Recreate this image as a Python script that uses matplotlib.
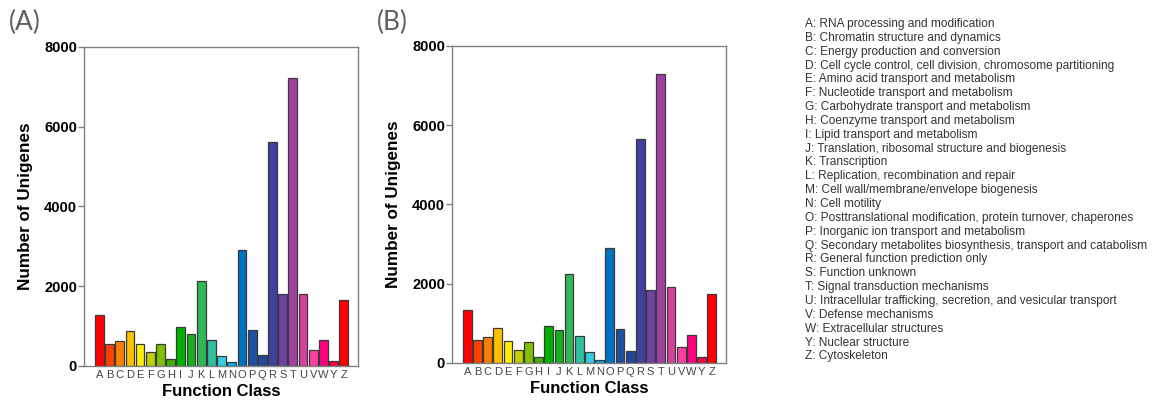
import matplotlib
matplotlib.use("Agg")
import matplotlib.pyplot as plt

# COG categories (no X)
classes = list("ABCDEFGHIJKLMNOPQRSTUVWYZ")

# Number of unigenes per class, panel (A) and (B)
counts_a = [1290, 560, 620, 890, 560, 340, 550, 180, 970, 810, 2140, 650, 260,
            100, 2900, 900, 280, 5610, 1800, 7220, 1800, 400, 660, 130, 1650]
counts_b = [1330, 580, 660, 890, 560, 330, 540, 160, 930, 830, 2240, 680, 270,
            80, 2910, 870, 290, 5660, 1830, 7300, 1910, 410, 710, 150, 1740]

bar_colors = ['#ff0000', '#ff4000', '#ff8000', '#ffc000', '#fff000', '#c0d000',
              '#80c000', '#40b000', '#00b000', '#18b018', '#30b858', '#30c0a0',
              '#30d0e0', '#00b0f0', '#0070c0', '#2050a0', '#2048a0', '#4040a0',
              '#7040a0', '#a040a0', '#d840a0', '#ff40a0', '#ff0080', '#ff0040',
              '#ff0000']

descriptions = [
    "A: RNA processing and modification",
    "B: Chromatin structure and dynamics",
    "C: Energy production and conversion",
    "D: Cell cycle control, cell division, chromosome partitioning",
    "E: Amino acid transport and metabolism",
    "F: Nucleotide transport and metabolism",
    "G: Carbohydrate transport and metabolism",
    "H: Coenzyme transport and metabolism",
    "I: Lipid transport and metabolism",
    "J: Translation, ribosomal structure and biogenesis",
    "K: Transcription",
    "L: Replication, recombination and repair",
    "M: Cell wall/membrane/envelope biogenesis",
    "N: Cell motility",
    "O: Posttranslational modification, protein turnover, chaperones",
    "P: Inorganic ion transport and metabolism",
    "Q: Secondary metabolites biosynthesis, transport and catabolism",
    "R: General function prediction only",
    "S: Function unknown",
    "T: Signal transduction mechanisms",
    "U: Intracellular trafficking, secretion, and vesicular transport",
    "V: Defense mechanisms",
    "W: Extracellular structures",
    "Y: Nuclear structure",
    "Z: Cytoskeleton",
]

plt.rcParams['font.family'] = ['Liberation Sans', 'DejaVu Sans']

fig = plt.figure(figsize=(11.61, 4.01), dpi=100)

def draw_panel(rect, counts, tag):
    ax = fig.add_axes(rect)
    x = range(len(classes))
    ax.bar(x, counts, width=0.86, color=bar_colors, edgecolor='#3a3a3a', linewidth=0.9)
    ax.set_xlim(-1.5, len(classes) + 0.4)
    ax.set_ylim(0, 8000)
    ax.set_yticks([0, 2000, 4000, 6000, 8000])
    ax.set_xticks(list(x))
    ax.set_xticklabels(classes, fontsize=8, color='#444444')
    ax.tick_params(axis='x', length=0, pad=3)
    ax.tick_params(axis='y', length=4, width=1, color='#808080', labelsize=10.5, pad=1)
    for lab in ax.get_yticklabels():
        lab.set_fontweight('bold')
    for s in ax.spines.values():
        s.set_color('#808080')
        s.set_linewidth(1)
    ax.set_xlabel("Function Class", fontsize=12, fontweight='bold', labelpad=3)
    ax.set_ylabel("Number of Unigenes", fontsize=12.3, fontweight='bold', labelpad=8)
    fig.text(rect[0] - 0.065, 0.975, tag, fontsize=19, color='#606060',
             family=['Lato', 'DejaVu Sans'], va='top')
    return ax

draw_panel([0.0724, 0.0873, 0.236, 0.7955], counts_a, "(A)")
draw_panel([0.3893, 0.0948, 0.236, 0.7905], counts_b, "(B)")

# class description list on the right
top_y = 1 - 24 / 401
step = 13.85 / 401
for i, d in enumerate(descriptions):
    fig.text(0.693, top_y - i * step, d, fontsize=8.6, color='#333333', va='center')

fig.savefig("out.png", dpi=100)
